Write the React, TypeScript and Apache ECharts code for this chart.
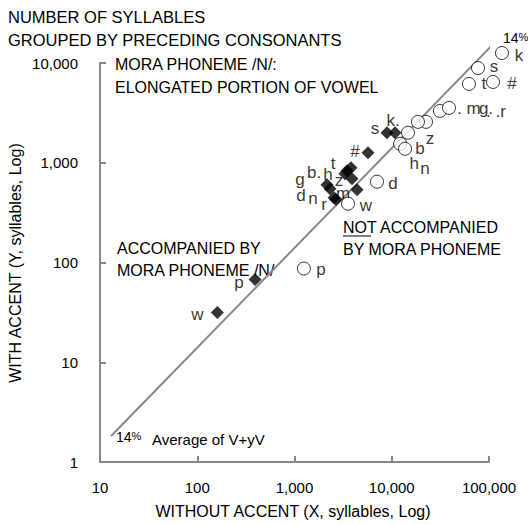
import React, { useEffect, useRef } from "react";
import * as echarts from "echarts";

// Accompanied by mora phoneme /N/ (filled diamonds)
const accNames = ["w", "p", "#", "s", "k", "t", "h", "b", "z", "g", "d", "n", "r", "m"];
const accX = [161, 393, 5700, 8930, 10800, 3810, 3300, 3470, 3900, 2160, 2320, 2550, 2670, 4400];
const accY = [31.6, 67.6, 1260, 2000, 2000, 891, 776, 832, 692, 603, 550, 447, 427, 537];

// Not accompanied by mora phoneme (open circles)
const notNames = ["k", "s", "t", "#", "m", "g", "r", "z", "b", "h", "n", "d", "w", "p"];
const notX = [136000, 77100, 62200, 110000, 31300, 38800, 22500, 18600, 14700, 12200, 13700, 7050, 3550, 1250];
const notY = [12600, 8900, 6170, 6460, 3310, 3550, 2570, 2570, 2000, 1550, 1380, 646, 389, 87];

// 14% reference line (average of V+yV)
const lineX = [13, 115000];
const lineY = [1.82, 16100];

const xTickLabels = ["10", "100", "1,000", "10,000", "100,000"];
const yTickLabels = ["1", "10", "100", "1,000", "10,000"];

// label styling (offsets from the marker centre, px)
const accLabelStyle: Record<string, { text: string; dx: number; dy: number }> = {
  w: { text: "w", dx: -20, dy: 2 },
  p: { text: "p", dx: -16, dy: 3 },
  "#": { text: "#", dx: -13, dy: -1 },
  s: { text: "s", dx: -12, dy: -4 },
  k: { text: "k.", dx: -2, dy: -12 },
  t: { text: "t", dx: -18, dy: -4 },
  h: { text: "h", dx: -17, dy: 1 },
  b: { text: "b.", dx: -33, dy: 2 },
  z: { text: "z", dx: -13, dy: 2 },
  g: { text: "g", dx: -27, dy: -5 },
  d: { text: "d", dx: -29, dy: 7 },
  n: { text: "n", dx: -21, dy: 1 },
  r: { text: "r", dx: -12, dy: 5 },
  m: { text: "m", dx: -14, dy: 4 },
};
const notLabelStyle: Record<string, { text: string; dx: number; dy: number }> = {
  k: { text: "k", dx: 17, dy: 3 },
  s: { text: "s", dx: 16, dy: -2 },
  t: { text: "t", dx: 15, dy: 0 },
  "#": { text: "#", dx: 19, dy: 2 },
  m: { text: ". m", dx: 29, dy: -2 },
  g: { text: "g.", dx: 37, dy: 1 },
  r: { text: ". .r", dx: 70, dy: -10 },
  z: { text: "z", dx: 12, dy: 17 },
  b: { text: "b", dx: 12, dy: 16 },
  h: { text: "h", dx: 14, dy: 20 },
  n: { text: "n", dx: 20, dy: 20 },
  d: { text: "d", dx: 16, dy: 2 },
  w: { text: "w", dx: 18, dy: 2 },
  p: { text: "p", dx: 17, dy: 1 },
};

const FONT = '"Liberation Sans", Arial, sans-serif';
const AXIS = "#888888";

function tickFmt(labels: string[], base: number) {
  return (v: number) => {
    const i = Math.round(Math.log10(v)) - base;
    return labels[i] ?? "";
  };
}

export default function App() {
  const ref = useRef<HTMLDivElement>(null);
  useEffect(() => {
    if (!ref.current) return;
    const chart = echarts.init(ref.current, undefined, { renderer: "svg" });

    const pointLabel = (st: { text: string; dx: number; dy: number }) => ({
      show: true,
      position: "inside",
      offset: [st.dx, st.dy],
      formatter: st.text,
      color: "#000",
      fontSize: 17,
      fontFamily: FONT,
    });

    const txt = (text: string, x: number, y: number, size = 16, extra: any = {}) => ({
      type: "text",
      x,
      y,
      silent: true,
      style: {
        text,
        fill: "#000",
        font: `${size}px ${FONT}`,
        fontSize: size,
        fontFamily: FONT,
        align: "left",
        verticalAlign: "middle",
        textAlign: "left",
        textVerticalAlign: "middle",
        ...extra,
      },
    });

    const pct = (x: number, y: number) => ({
      type: "text",
      x,
      y,
      silent: true,
      style: {
        text: "{a|14}{b|%}",
        align: "left",
        verticalAlign: "middle",
        textAlign: "left",
        textVerticalAlign: "middle",
        rich: {
          a: { fontSize: 14, fontFamily: FONT, fill: "#000", color: "#000" },
          b: { fontSize: 11, fontFamily: FONT, fill: "#000", color: "#000", verticalAlign: "top" },
        },
      },
    });

    chart.setOption({
      animation: false,
      grid: { left: 100, top: 63, width: 389, height: 399, containLabel: false },
      xAxis: {
        type: "log",
        logBase: 10,
        min: 10,
        max: 100000,
        axisLine: { lineStyle: { color: AXIS, width: 2 } },
        axisTick: { inside: true, length: 6, lineStyle: { color: AXIS, width: 2 } },
        minorTick: { show: false },
        splitLine: { show: false },
        axisLabel: { color: "#000", fontSize: 15, fontFamily: FONT, margin: 18, formatter: tickFmt(xTickLabels, 1) },
      },
      yAxis: {
        type: "log",
        logBase: 10,
        min: 1,
        max: 10000,
        axisLine: { lineStyle: { color: AXIS, width: 2 } },
        axisTick: { inside: true, length: 6, lineStyle: { color: AXIS, width: 2 } },
        minorTick: { show: false },
        splitLine: { show: false },
        axisLabel: { color: "#000", fontSize: 15, fontFamily: FONT, margin: 22, formatter: tickFmt(yTickLabels, 0) },
      },
      series: [
        {
          type: "line",
          data: lineX.map((x, i) => [x, lineY[i]]),
          symbol: "none",
          clip: false,
          silent: true,
          lineStyle: { color: AXIS, width: 2 },
          z: 1,
        },
        {
          type: "scatter",
          symbol: "diamond",
          symbolSize: 13,
          clip: false,
          itemStyle: { color: "#000" },
          data: accNames.map((n, i) => ({
            name: n,
            value: [accX[i], accY[i]],
            label: pointLabel(accLabelStyle[n]),
          })),
          z: 3,
        },
        {
          type: "scatter",
          symbol: "circle",
          symbolSize: 13,
          clip: false,
          itemStyle: { color: "#fff", borderColor: "#000", borderWidth: 1 },
          data: notNames.map((n, i) => ({
            name: n,
            value: [notX[i], notY[i]],
            label: pointLabel(notLabelStyle[n]),
          })),
          z: 4,
        },
      ],
      graphic: [
        txt("NUMBER OF SYLLABLES", 8, 17, 16.5),
        txt("GROUPED BY PRECEDING CONSONANTS", 8, 40, 16.5),
        txt("MORA PHONEME /N/:", 115, 64),
        txt("ELONGATED PORTION OF VOWEL", 115, 87),
        txt("ACCOMPANIED BY", 117, 248),
        txt("MORA PHONEME /N/", 117, 270),
        txt("NOT ACCOMPANIED", 343, 227),
        txt("BY MORA PHONEME", 343, 249),
        { type: "line", silent: true, shape: { x1: 343, y1: 236, x2: 371, y2: 236 }, style: { stroke: "#000", lineWidth: 1 } },
        pct(503, 38),
        pct(116, 437),
        txt("Average of V+yV", 152, 439, 15),
        txt("WITHOUT ACCENT (X, syllables, Log)", 293, 511, 16, { align: "center", textAlign: "center" }),
        {
          type: "text",
          x: 15,
          y: 263,
          rotation: Math.PI / 2,
          silent: true,
          style: {
            text: "WITH ACCENT (Y, syllables, Log)",
            fill: "#000",
            font: `16px ${FONT}`,
            fontSize: 16,
            fontFamily: FONT,
            align: "center",
            verticalAlign: "middle",
            textAlign: "center",
            textVerticalAlign: "middle",
          },
        },
      ],
    });
    return () => chart.dispose();
  }, []);

  return (
    <div
      ref={ref}
      style={{ position: "absolute", left: 0, top: 0, width: 528, height: 524, background: "#fff" }}
    />
  );
}
